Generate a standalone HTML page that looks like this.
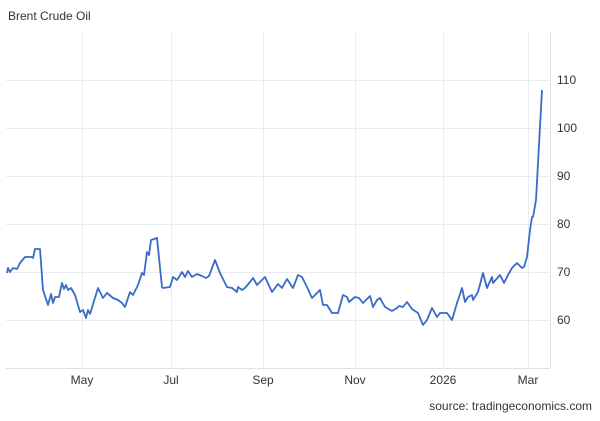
<!DOCTYPE html>
<html><head><style>
body{margin:0;background:#fff;width:600px;height:416px;overflow:hidden;font-family:"Liberation Sans",sans-serif}
</style></head><body>
<svg width="600" height="416" xmlns="http://www.w3.org/2000/svg" font-family="Liberation Sans, sans-serif">
<text x="8" y="20" font-size="12" fill="#333">Brent Crude Oil</text>
<g stroke="#e8ecf0" stroke-width="1">
<line x1="6" y1="80.5" x2="550" y2="80.5"/><line x1="6" y1="128.5" x2="550" y2="128.5"/>
<line x1="6" y1="176.5" x2="550" y2="176.5"/><line x1="6" y1="224.5" x2="550" y2="224.5"/>
<line x1="6" y1="272.5" x2="550" y2="272.5"/><line x1="6" y1="320.5" x2="550" y2="320.5"/>
<line x1="82.5" y1="32" x2="82.5" y2="368"/><line x1="171.5" y1="32" x2="171.5" y2="368"/>
<line x1="263.5" y1="32" x2="263.5" y2="368"/><line x1="355.5" y1="32" x2="355.5" y2="368"/>
<line x1="443.5" y1="32" x2="443.5" y2="368"/><line x1="528.5" y1="32" x2="528.5" y2="368"/>
<line x1="6" y1="368.5" x2="550" y2="368.5" stroke="#dde2e8"/>
<line x1="550.5" y1="32" x2="550.5" y2="368" stroke="#dde2e8"/>
</g>
<g font-size="12" fill="#333">
<text x="557" y="84">110</text><text x="557" y="132">100</text><text x="557" y="180">90</text>
<text x="557" y="228">80</text><text x="557" y="276">70</text><text x="557" y="324">60</text>
<g text-anchor="middle"><text x="82" y="384">May</text><text x="171" y="384">Jul</text><text x="263" y="384">Sep</text>
<text x="355" y="384">Nov</text><text x="443" y="384">2026</text><text x="528" y="384">Mar</text></g>
<text x="592" y="410" text-anchor="end">source: tradingeconomics.com</text>
</g>
<polyline fill="none" stroke="#3a6bc7" stroke-width="1.8" stroke-linejoin="round" points="7,273 8,268 10,272 13,268 17,269 20,263 25,257 32,257 33,258 35,249 40,249 43,290 48,305 51,294 53,303 55,297 59,297 62,283 64,289 66,285 68,290 71,288 75,295 80,312 83,310 86,318 88,310 90,314 98,288 103,298 107,293 113,298 118,300 122,303 125,307 130,292 133,295 138,285 142,273 144,275 147,252 149,255 151,240 157,238 162,287 163,288 170,287 173,277 177,280 182,272 185,277 188,271 192,277 197,274 202,276 206,278 209,276 215,260 220,273 227,287 232,288 237,292 238,287 242,290 245,288 250,282 253,278 257,285 265,277 272,292 278,284 282,288 287,279 293,288 298,275 302,277 307,287 312,298 317,293 320,290 323,305 327,305 332,313 338,313 343,295 347,297 349,302 355,297 359,298 363,303 370,296 373,307 377,300 380,298 385,307 392,311 397,308 399,306 403,307 407,302 412,309 418,313 423,325 427,320 432,308 437,317 440,313 447,313 452,320 457,303 462,288 465,302 468,297 472,295 473,300 478,292 483,273 487,288 492,277 493,283 500,275 504,283 508,275 512,268 517,263 522,268 524,267 527,257 530,230 532,217 533,217 536,200 542,90"/>
</svg>
</body></html>
